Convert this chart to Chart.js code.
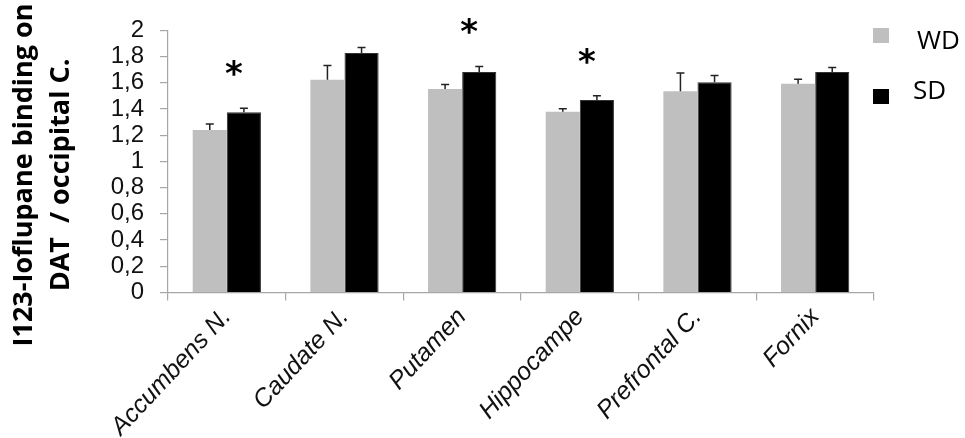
<!DOCTYPE html>
<html>
<head>
<meta charset="utf-8">
<script src="https://cdn.jsdelivr.net/npm/chart.js@4"></script>
<style>
  html, body { margin: 0; padding: 0; background: #fff; }
  #wrap { width: 965px; height: 438px; position: relative; }
</style>
</head>
<body>
<div id="wrap"><canvas id="bindingChart"></canvas></div>
<script>
// data
const regions = ['Accumbens N.', 'Caudate N.', 'Putamen', 'Hippocampe', 'Prefrontal C.', 'Fornix'];
const wdValues = [1.24, 1.623, 1.553, 1.38, 1.536, 1.593];
const wdErrors = [0.046, 0.11, 0.035, 0.023, 0.138, 0.034];
const sdValues = [1.375, 1.827, 1.682, 1.468, 1.604, 1.682];
const sdErrors = [0.03, 0.043, 0.043, 0.033, 0.052, 0.035];
const significant = [true, false, true, true, false, false];
const yTickLabels = ['0', '0,2', '0,4', '0,6', '0,8', '1', '1,2', '1,4', '1,6', '1,8', '2'];
const yTitleLines = ['I123-Ioflupane binding on', 'DAT  / occipital C.'];

const WD_COLOR = '#bfbfbf';
const SD_COLOR = '#000000';
const AXIS_COLOR = '#a6a6a6';

// one-sided error bars (upwards) drawn over each bar
const errorBars = {
  id: 'errorBars',
  afterDatasetsDraw(chart) {
    const ctx = chart.ctx;
    const y = chart.scales.y;
    ctx.save();
    ctx.strokeStyle = '#222';
    ctx.lineWidth = 1.5;
    chart.data.datasets.forEach((ds, di) => {
      const meta = chart.getDatasetMeta(di);
      meta.data.forEach((bar, i) => {
        const top = y.getPixelForValue(ds.data[i] + ds.errors[i]);
        ctx.beginPath();
        ctx.moveTo(bar.x, bar.y);
        ctx.lineTo(bar.x, top);
        ctx.moveTo(bar.x - 4, top);
        ctx.lineTo(bar.x + 4, top);
        ctx.stroke();
      });
    });
    ctx.restore();
  }
};

// significance stars above the SD bars
const stars = {
  id: 'stars',
  afterDatasetsDraw(chart) {
    const ctx = chart.ctx;
    const x = chart.scales.x, y = chart.scales.y;
    ctx.save();
    ctx.fillStyle = '#000';
    ctx.font = 'bold 34px "DejaVu Sans"';
    ctx.textAlign = 'center';
    ctx.textBaseline = 'middle';
    significant.forEach((s, i) => {
      if (!s) return;
      const px = x.getPixelForValue(i) + 7;
      const py = y.getPixelForValue(sdValues[i] + sdErrors[i]) - 32;
      ctx.fillText('*', px, py);
    });
    ctx.restore();
  }
};

// two-line rotated y title and the square legend on the right
const decorations = {
  id: 'decorations',
  afterDraw(chart) {
    const ctx = chart.ctx;
    ctx.save();
    ctx.fillStyle = '#000';
    ctx.font = 'bold 27px "Open Sans"';
    ctx.textAlign = 'center';
    ctx.textBaseline = 'middle';
    ctx.translate(0, 175);
    ctx.rotate(-Math.PI / 2);
    ctx.fillText(yTitleLines[0], 0, 24);
    ctx.fillText(yTitleLines[1], 0, 61);
    ctx.restore();

    ctx.save();
    ctx.font = '26px "Open Sans"';
    ctx.textBaseline = 'middle';
    const rows = [{ boxY: 28, textY: 42 }, { boxY: 89, textY: 92 }];
    chart.data.datasets.forEach((ds, i) => {
      ctx.fillStyle = ds.backgroundColor;
      ctx.fillRect(873, rows[i].boxY, 16, 15);
      ctx.fillStyle = '#000';
      ctx.fillText(ds.label, i === 0 ? 917 : 913, rows[i].textY);
    });
    ctx.restore();
  }
};

const ctx = document.getElementById('bindingChart').getContext('2d');
new Chart(ctx, {
  type: 'bar',
  data: {
    labels: regions,
    datasets: [
      { label: 'WD', data: wdValues, errors: wdErrors, backgroundColor: WD_COLOR, borderWidth: 0 },
      { label: 'SD', data: sdValues, errors: sdErrors, backgroundColor: SD_COLOR, borderColor: '#333', borderWidth: 1 }
    ]
  },
  options: {
    responsive: true,
    maintainAspectRatio: false,
    animation: false,
    devicePixelRatio: 1,
    layout: { padding: { left: 0, right: 91, top: 27, bottom: 0 } },
    plugins: { legend: { display: false }, tooltip: { enabled: false } },
    datasets: { bar: { categoryPercentage: 0.58, barPercentage: 1.0 } },
    scales: {
      x: {
        offset: true,
        grid: { offset: true, drawOnChartArea: false, color: AXIS_COLOR, tickLength: 8, lineWidth: 1.2 },
        border: { color: AXIS_COLOR, width: 1.2 },
        ticks: {
          color: '#111',
          font: { family: '"Liberation Sans"', size: 25, style: 'italic' },
          minRotation: 47, maxRotation: 47, padding: 2, autoSkip: false
        },
        afterFit(scale) { scale.height = 145.5; }
      },
      y: {
        min: 0, max: 2,
        grid: { drawOnChartArea: false, color: AXIS_COLOR, tickLength: 8, lineWidth: 1.2 },
        border: { color: AXIS_COLOR, width: 1.2 },
        ticks: {
          stepSize: 0.2,
          autoSkip: false,
          color: '#111',
          padding: 16,
          font: { family: '"Liberation Sans"', size: 24 },
          callback: (v, i) => yTickLabels[i]
        },
        afterFit(scale) { scale.width = 168; }
      }
    }
  },
  plugins: [errorBars, stars, decorations]
});
</script>
</body>
</html>
